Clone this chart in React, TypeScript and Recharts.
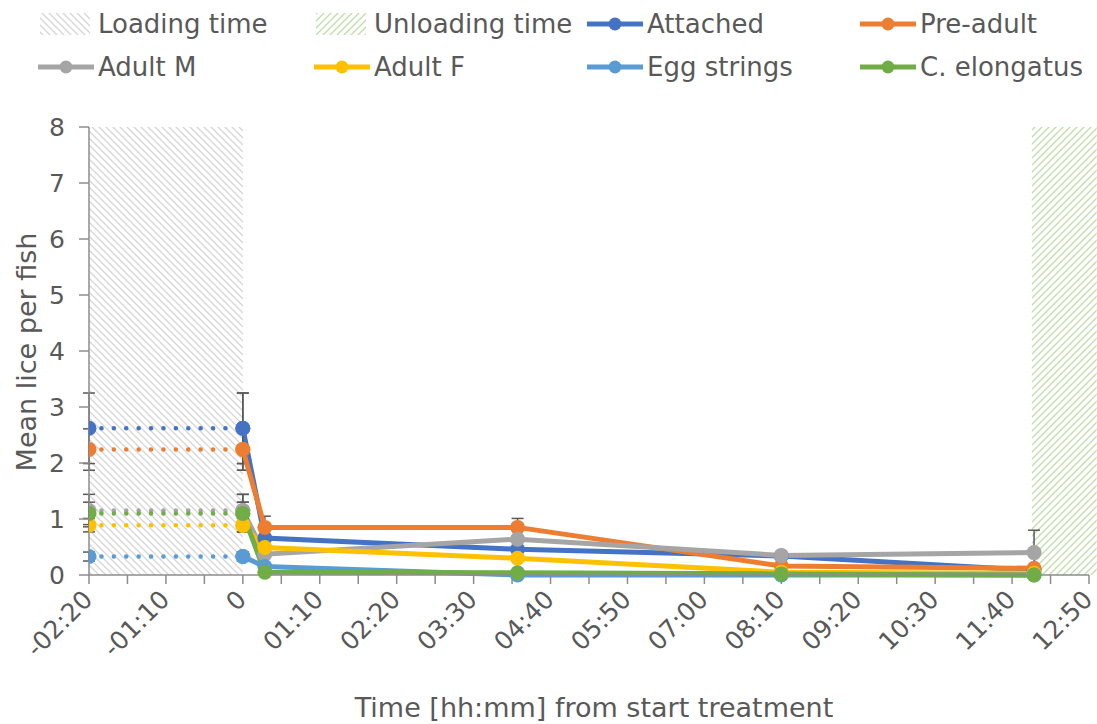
import React from 'react';
import { LineChart, Line, XAxis, YAxis, ReferenceArea, ErrorBar } from 'recharts';

// time in minutes relative to start of treatment
const PRE_TIMES = [-140, 0];
const POST_TIMES = [0, 20, 250, 490, 720];

const ATTACHED = [2.62, 0.66, 0.46, 0.34, 0.08];
const PRE_ADULT = [2.24, 0.85, 0.85, 0.16, 0.12];
const ADULT_M = [1.15, 0.37, 0.64, 0.35, 0.4];
const ADULT_F = [0.89, 0.49, 0.3, 0.05, 0.03];
const EGG_STRINGS = [0.33, 0.15, 0.0, 0.0, 0.0];
const C_ELONGATUS = [1.1, 0.05, 0.04, 0.02, 0.0];

// standard error, first value is also used for the pre-treatment point
const ATTACHED_ERR = [0.63, 0, 0, 0, 0];
const PRE_ADULT_ERR = [0.37, 0.2, 0.16, 0, 0];
const ADULT_M_ERR = [0.29, 0, 0, 0.05, 0.4];
const ADULT_F_ERR = [0.12, 0, 0, 0, 0];
const EGG_STRINGS_ERR = [0.08, 0, 0, 0, 0];
const C_ELONGATUS_ERR = [0.2, 0, 0, 0, 0];

const Y_TICKS = [0, 1, 2, 3, 4, 5, 6, 7, 8];
const X_TICKS = Array.from({ length: 27 }, (_, i) => -140 + i * 35);

const SERIES = [
    { name: 'Attached', color: '#4472C4', values: ATTACHED, err: ATTACHED_ERR },
    { name: 'Pre-adult', color: '#ED7D31', values: PRE_ADULT, err: PRE_ADULT_ERR },
    { name: 'Adult M', color: '#A5A5A5', values: ADULT_M, err: ADULT_M_ERR },
    { name: 'Adult F', color: '#FFC000', values: ADULT_F, err: ADULT_F_ERR },
    { name: 'Egg strings', color: '#5B9BD5', values: EGG_STRINGS, err: EGG_STRINGS_ERR },
    { name: 'C. elongatus', color: '#70AD47', values: C_ELONGATUS, err: C_ELONGATUS_ERR },
];

const FONT = '"DejaVu Sans", Verdana, sans-serif';
const TEXT = '#595959';
const AXIS = '#8C8C8C';

const pad = (n: number) => String(n).padStart(2, '0');
const fmtTime = (m: number) => {
    if (m === 0) return '0';
    const a = Math.abs(m);
    return (m < 0 ? '-' : '') + pad(Math.floor(a / 60)) + ':' + pad(a % 60);
};

const XTick = ({ x, y, payload }: any) => {
    if (payload.value % 70 !== 0) return null;
    const tx = x - 1;
    const ty = y + 9;
    return (
        <text
            x={tx}
            y={ty}
            transform={`rotate(-45, ${tx}, ${ty})`}
            textAnchor="end"
            dominantBaseline="central"
            fill={TEXT}
            fontSize={25}
            fontFamily={FONT}
        >
            {fmtTime(payload.value)}
        </text>
    );
};

const Hatch = ({ id, color, dir }: { id: string; color: string; dir: 'down' | 'up' }) => (
    <pattern id={id} patternUnits="userSpaceOnUse" width={7} height={7}>
        {dir === 'up' ? (
            <path d="M-2,2 l4,-4 M0,7 l7,-7 M5,9 l4,-4" stroke={color} strokeWidth={1.3} />
        ) : (
            <path d="M-2,5 l4,4 M0,0 l7,7 M5,-2 l4,4" stroke={color} strokeWidth={1.3} />
        )}
    </pattern>
);

const LegendItem = ({ left, top, label, kind, color }: any) => (
    <div style={{ position: 'absolute', left, top, display: 'flex', alignItems: 'center', height: 30 }}>
        <svg width={56} height={30} style={{ display: 'block' }}>
            {kind === 'hatch-load' && (
                <>
                    <defs><Hatch id="lgLoad" color="#D6D6D6" dir="down" /></defs>
                    <rect x={2} y={4} width={50} height={22} fill="url(#lgLoad)" />
                </>
            )}
            {kind === 'hatch-unload' && (
                <>
                    <defs><Hatch id="lgUnload" color="#BFDEA9" dir="up" /></defs>
                    <rect x={2} y={4} width={50} height={22} fill="url(#lgUnload)" />
                </>
            )}
            {kind === 'line' && (
                <>
                    <line x1={0} y1={15} x2={56} y2={15} stroke={color} strokeWidth={5} />
                    <circle cx={28} cy={15} r={6.5} fill={color} />
                </>
            )}
        </svg>
        <span style={{ fontFamily: FONT, fontSize: 26, color: TEXT, marginLeft: 4, whiteSpace: 'nowrap' }}>{label}</span>
    </div>
);

export default function App() {
    const preData = SERIES.map(s => PRE_TIMES.map(t => ({ t, v: s.values[0], e: s.err[0] })));
    const postData = SERIES.map(s => POST_TIMES.map((t, i) => ({ t, v: s.values[i], e: s.err[i] })));

    const cols = [38, 314, 587, 860];
    const legend = [
        { label: 'Loading time', kind: 'hatch-load' },
        { label: 'Unloading time', kind: 'hatch-unload' },
        ...SERIES.map(s => ({ label: s.name, kind: 'line', color: s.color })),
    ];

    return (
        <div style={{ position: 'absolute', left: 0, top: 0, width: 1097, height: 724, background: '#fff' }}>
            <LineChart width={1097} height={724} margin={{ top: 127, right: 8, left: 0, bottom: 0 }}>
                <defs>
                    <Hatch id="loadHatch" color="#D6D6D6" dir="down" />
                    <Hatch id="unloadHatch" color="#BFDEA9" dir="up" />
                </defs>
                <XAxis
                    type="number"
                    dataKey="t"
                    domain={[-140, 770]}
                    ticks={X_TICKS}
                    interval={0}
                    height={149}
                    stroke={AXIS}
                    strokeWidth={1.5}
                    tickSize={9}
                    tick={<XTick />}
                    allowDataOverflow
                />
                <YAxis
                    type="number"
                    domain={[0, 8]}
                    ticks={Y_TICKS}
                    width={89}
                    stroke={AXIS}
                    strokeWidth={1.5}
                    tickSize={10}
                    tickMargin={14}
                    tick={{ fill: TEXT, fontSize: 25, fontFamily: FONT }}
                />
                <ReferenceArea x1={-140} x2={0} y1={0} y2={8} fill="url(#loadHatch)" fillOpacity={1} stroke="none" ifOverflow="visible" />
                <ReferenceArea x1={718} x2={777} y1={0} y2={8} fill="url(#unloadHatch)" fillOpacity={1} stroke="none" ifOverflow="visible" />
                {SERIES.map((s, i) => (
                    <Line
                        key={'pre-' + s.name}
                        data={preData[i]}
                        dataKey="v"
                        type="linear"
                        stroke={s.color}
                        strokeWidth={4.5}
                        strokeDasharray="0.1 12.3"
                        strokeLinecap="round"
                        dot={{ r: 7.5, fill: s.color, stroke: s.color, strokeWidth: 0, strokeDasharray: '' }}
                        activeDot={false}
                        isAnimationActive={false}
                    >
                        <ErrorBar dataKey="e" direction="y" width={6} stroke="#595959" strokeWidth={1.5} />
                    </Line>
                ))}
                {SERIES.map((s, i) => (
                    <Line
                        key={'post-' + s.name}
                        data={postData[i]}
                        dataKey="v"
                        type="linear"
                        stroke={s.color}
                        strokeWidth={5}
                        dot={{ r: 7.5, fill: s.color, stroke: s.color, strokeWidth: 0 }}
                        activeDot={false}
                        isAnimationActive={false}
                    >
                        <ErrorBar dataKey="e" direction="y" width={6} stroke="#595959" strokeWidth={1.5} />
                    </Line>
                ))}
            </LineChart>
            <svg width={1097} height={724} style={{ position: 'absolute', left: 0, top: 0, pointerEvents: 'none' }}>
                <text
                    x={26}
                    y={352}
                    transform="rotate(-90, 26, 352)"
                    textAnchor="middle"
                    dominantBaseline="central"
                    fill={TEXT}
                    fontSize={27}
                    fontFamily={FONT}
                >
                    Mean lice per fish
                </text>
                <text x={594} y={707} textAnchor="middle" dominantBaseline="central" fill={TEXT} fontSize={27} fontFamily={FONT}>
                    Time [hh:mm] from start treatment
                </text>
            </svg>
            {legend.map((l, i) => (
                <LegendItem
                    key={l.label}
                    left={cols[i % 4]}
                    top={i < 4 ? 9 : 52}
                    label={l.label}
                    kind={l.kind}
                    color={(l as any).color}
                />
            ))}
        </div>
    );
}
